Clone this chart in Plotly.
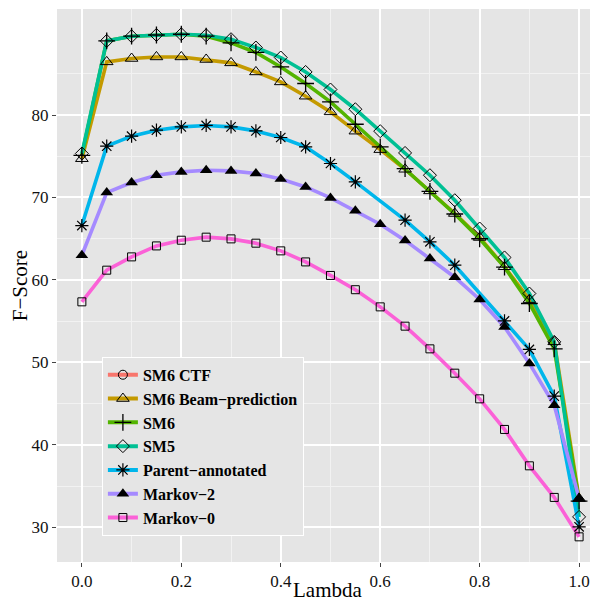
import plotly.graph_objects as go

# ---- data ----
lam = [0.0, 0.05, 0.1, 0.15, 0.2, 0.25, 0.3, 0.35, 0.4, 0.45, 0.5,
       0.55, 0.6, 0.65, 0.7, 0.75, 0.8, 0.85, 0.9, 0.95, 1.0]

sm6_ctf_lam = []
sm6_ctf = []

sm6_beam = [74.7, 86.44, 86.85, 87.04, 87.04, 86.73, 86.32, 85.22, 84.01, 82.28, 80.38,
            78.04, 75.8, 73.42, 70.8, 68.06, 65.15, 61.6, 57.62, 52.5, 33.5]

sm6 = [75.1, 88.98, 89.55, 89.7, 89.79, 89.55, 88.74, 87.58, 85.83, 83.82, 81.59,
       78.88, 76.13, 73.5, 70.75, 68.0, 65.0, 61.55, 57.15, 51.65, 33.2]

sm5 = [75.33, 88.98, 89.55, 89.71, 89.79, 89.67, 89.19, 88.18, 86.97, 85.22, 83.09,
       80.7, 78.04, 75.4, 72.7, 69.67, 66.24, 62.73, 58.36, 52.5, 31.28]

parent_lam = [0.0, 0.05, 0.1, 0.15, 0.2, 0.25, 0.3, 0.35, 0.4, 0.45, 0.5,
              0.55, 0.65, 0.7, 0.75, 0.85, 0.9, 0.95, 1.0]
parent = [66.6, 76.22, 77.43, 78.16, 78.56, 78.73, 78.56, 78.07, 77.27, 76.13, 74.12,
          71.89, 67.25, 64.62, 61.79, 55.04, 51.58, 45.92, 30.07]

markov2 = [63.0, 70.6, 71.82, 72.7, 73.1, 73.31, 73.22, 72.9, 72.25, 71.28, 69.95,
           68.4, 66.76, 64.8, 62.6, 60.33, 57.64, 54.3, 49.88, 44.82, 33.5]

markov0 = [57.35, 61.19, 62.8, 64.13, 64.82, 65.19, 64.98, 64.46, 63.53, 62.19, 60.55,
           58.82, 56.74, 54.4, 51.65, 48.7, 45.59, 41.88, 37.47, 33.64, 28.86]

names = ["SM6 CTF", "SM6 Beam\u2212prediction", "SM6", "SM5",
         "Parent\u2212annotated", "Markov\u22122", "Markov\u22120"]
colors = ["#F8766D", "#C49A00", "#53B400", "#00C094", "#00B6EB", "#A58AFF", "#FB61D7"]

xs = [sm6_ctf_lam, lam, lam, lam, parent_lam, lam, lam]
ys = [sm6_ctf, sm6_beam, sm6, sm5, parent, markov2, markov0]

markers = [
    dict(symbol="circle-open", size=9, color="black", line=dict(color="black", width=1)),
    dict(symbol="triangle-up-open", size=11, color="black", line=dict(color="black", width=1)),
    dict(symbol="cross-thin-open", size=12, color="black", line=dict(color="black", width=1.3)),
    dict(symbol="diamond-open", size=10, color="black", line=dict(color="black", width=1)),
    dict(symbol="asterisk-open", size=11, color="black", line=dict(color="black", width=1.2)),
    dict(symbol="triangle-up", size=11, color="black", line=dict(color="black", width=0)),
    dict(symbol="square-open", size=8, color="black", line=dict(color="black", width=1)),
]

fig = go.Figure()

# lines first (all series), then points on top, like the layered original
for x, y, c in zip(xs, ys, colors):
    fig.add_trace(go.Scatter(x=x, y=y, mode="lines", line=dict(color=c, width=3.6),
                             showlegend=False, hoverinfo="skip"))
for x, y, m in zip(xs, ys, markers):
    fig.add_trace(go.Scatter(x=x, y=y, mode="markers", marker=m, showlegend=False))
# legend entries
for n, c, m in zip(names, colors, markers):
    fig.add_trace(go.Scatter(x=[None], y=[None], mode="lines+markers", name="<b>%s</b>" % n,
                             line=dict(color=c, width=4), marker=m))

font_family = "Liberation Serif, Times New Roman, serif"

# the page body adds an 8px offset, margins compensate for it
fig.update_layout(
    width=598, height=602,
    margin=dict(l=49, r=8, t=1, b=48),
    paper_bgcolor="white",
    plot_bgcolor="#E5E5E5",
    font=dict(family=font_family, color="black"),
    legend=dict(x=0.083, y=0.371, xanchor="left", yanchor="top",
                bgcolor="#E5E5E5", bordercolor="white", borderwidth=1,
                font=dict(family=font_family, size=16, color="black"),
                itemwidth=30, tracegroupgap=0),
    xaxis=dict(range=[-0.05, 1.038], tickvals=[0, 0.2, 0.4, 0.6, 0.8, 1.0],
               ticktext=["0.0", "0.2", "0.4", "0.6", "0.8", "1.0"],
               showgrid=True, gridcolor="white", gridwidth=1.5, zeroline=False,
               ticks="outside", ticklen=4, tickcolor="#444", tickwidth=1,
               tickfont=dict(size=17, color="#111"), automargin=False,
               minor=dict(tickvals=[0.1, 0.3, 0.5, 0.7, 0.9], showgrid=True,
                          gridcolor="#F2F2F2", gridwidth=1, ticks="")),
    yaxis=dict(range=[25.81, 92.85], tickvals=[30, 40, 50, 60, 70, 80],
               showgrid=True, gridcolor="white", gridwidth=1.5, zeroline=False,
               ticks="outside", ticklen=4, tickcolor="#444", tickwidth=1,
               tickfont=dict(size=17, color="#111"), automargin=False,
               minor=dict(tickvals=[35, 45, 55, 65, 75, 85], showgrid=True,
                          gridcolor="#F2F2F2", gridwidth=1, ticks=""),
               title=dict(text="F\u2212Score", font=dict(size=21, color="black"), standoff=4)),
    annotations=[dict(text="Lambda", xref="paper", yref="paper", x=0.5, y=-0.051,
                      xanchor="center", yanchor="middle", showarrow=False,
                      font=dict(family=font_family, size=21, color="black"))],
)

fig.write_html("out.html")
